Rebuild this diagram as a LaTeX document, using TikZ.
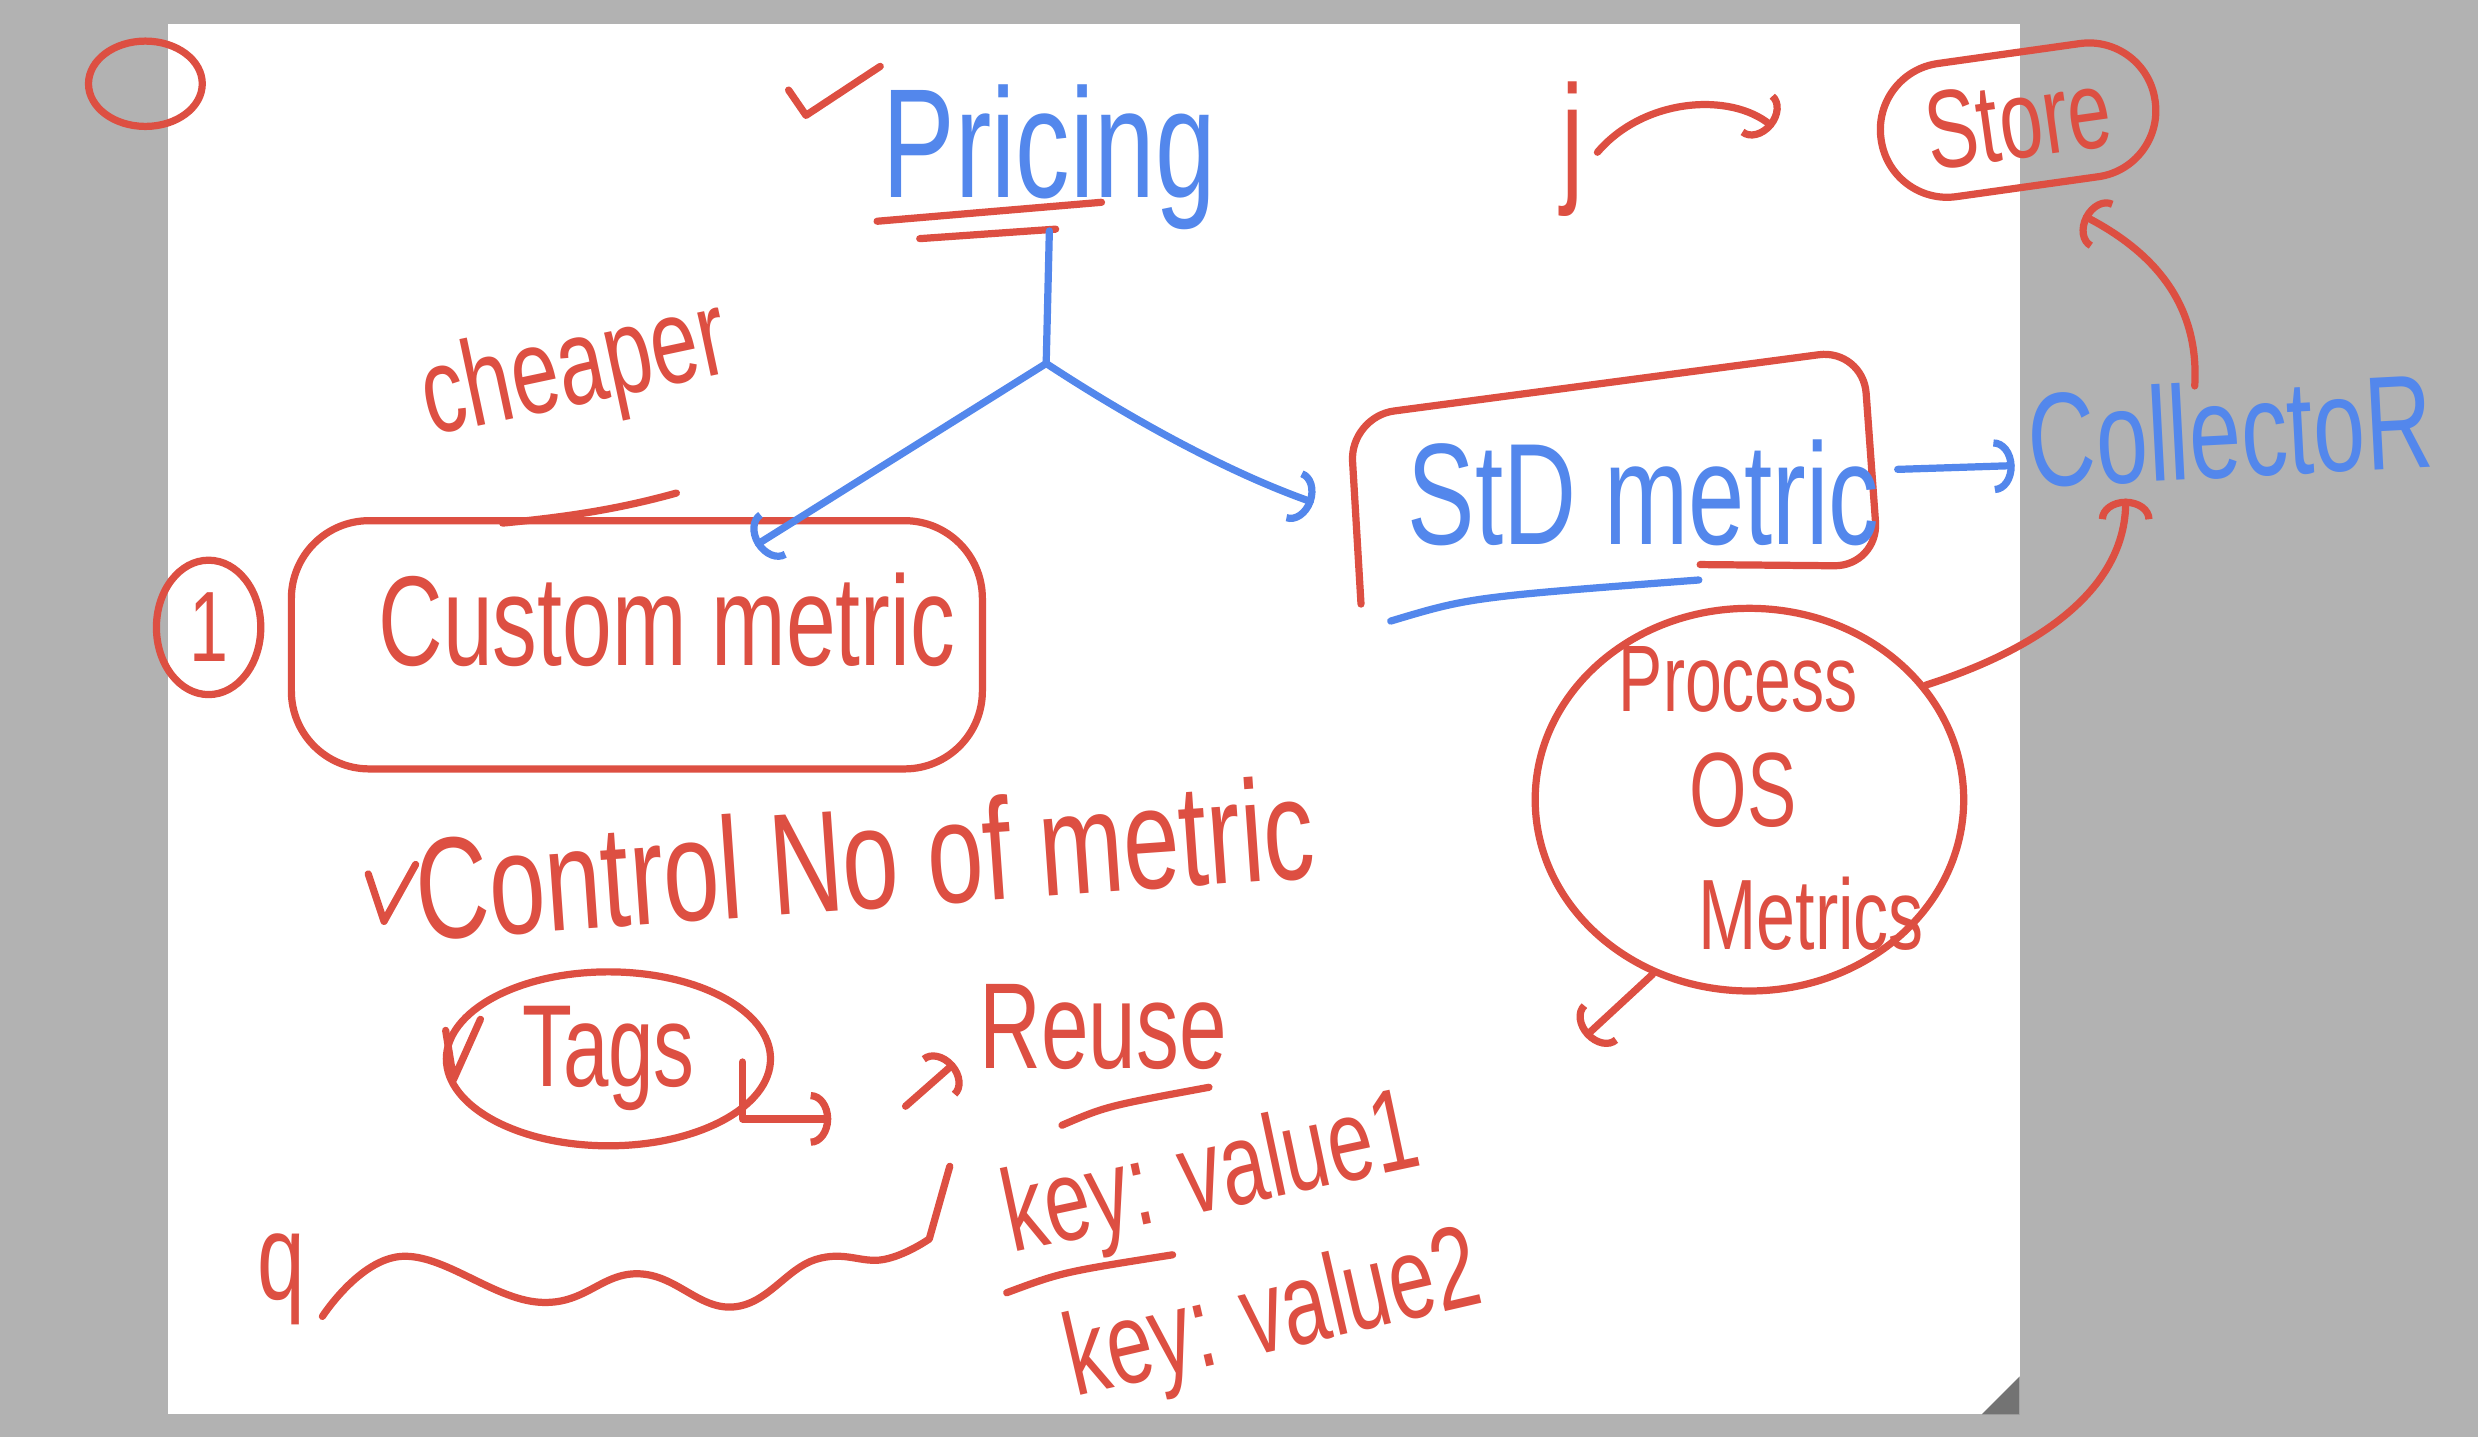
\documentclass[tikz,border=0pt]{standalone}
\usepackage{fontspec}
\usepackage{xcolor}
\usepackage{tikz}
\usetikzlibrary{arrows.meta,shapes.geometric,positioning,calc}
\newfontfamily\hand[FakeStretch=0.7]{Liberation Sans}
\newcommand\handfont[1]{\hand\fontsize{#1}{#1}\selectfont}
\definecolor{penred}{HTML}{DD4F42}
\definecolor{penblue}{HTML}{5387EC}
\definecolor{board}{HTML}{B2B2B2}

\begin{document}
\begin{tikzpicture}[x=0.01cm, y=-0.01cm, line cap=round, line join=round,
		redink/.style={draw=penred, line width=1.3pt},
		blueink/.style={draw=penblue, line width=1.3pt},
		hook/.style={-{Arc Barb[length=1.3mm, width=3.4mm]}},
		redtext/.style={text=penred, inner sep=0pt},
		bluetext/.style={text=penblue, inner sep=0pt}]
		% board
		\useasboundingbox (0,0) rectangle (1568,909);
		\fill[board] (0,0) rectangle (1568,909);
		\fill[white] (106,15) rectangle (1278,895);
		\fill[black!55] (1254,895) -- (1278,895) -- (1278,871) -- cycle;
		\draw[redink] (92,53) ellipse [x radius=36, y radius=27];

		% pricing
		\node[bluetext, font=\handfont{28}, anchor=base] (pricing) at (664,125) {Pricing};
		\draw[redink] (499,57) -- (510,73) -- (557,42);
		\draw[redink] (555,140) -- (697,128);
		\draw[redink] (582,151) -- (668,145);
		\coordinate (fork) at (662,230);
		\draw[blueink] (pricing.south) -- (fork);

		% custom metric
		\node[redink, rounded corners=14pt, minimum width=4.37cm, minimum height=1.57cm] (custom) at (403,408) {};
		\node[redtext, font=\handfont{23}] (customtxt) at (422,392) {Custom metric};
		\draw[redink] (318,331) .. controls (360,327) and (392,322) .. (428,312);
		\node[ellipse, redink, redtext, minimum width=0.66cm, minimum height=0.85cm, font=\handfont{18}] (one) at (132,397) {1};
		\node[redtext, font=\handfont{22}, rotate=12, anchor=base west] (cheaper) at (272,276) {cheaper};

		% std metric
		\node[minimum width=3.3cm, minimum height=1.25cm] (std) at (1020,302) {};
		\draw[redink, rounded corners=8pt] ($(std.south west)+(7,17)$) -- ($(std.north west)+(0,25)$) -- ($(std.north east)+(-7,-18)$) -- ($(std.south east)+(3,-7)$) -- ($(std.south east)+(-110,-8)$);
		\node[bluetext, font=\handfont{26}] (stdtxt) at (1040,312) {StD metric};
		\draw[blueink] (880,393) .. controls (930,378) .. (1075,367);

		\draw[blueink, hook] (fork) -- ($(custom.north)+(75,18)$);
		\draw[blueink, hook] (fork) .. controls (720,268) and (780,300) .. ($(std.west)+(-23,16)$);

		% collector and store
		\node[bluetext, font=\handfont{24}, anchor=base, rotate=3] (collector) at (1413,302) {CollectoR};
		\draw[blueink, hook] ($(std.east)+(15,-5)$) -- ($(collector.west)+(-8,16)$);
		\node[redink, redtext, rounded corners=12pt, rotate=8, minimum width=1.75cm, minimum height=0.85cm, font=\handfont{20}] (store) at (1277,76) {Store};
		\coordinate (storein) at ($(store.south)+(35,16)$);
		\draw[redink, hook] ($(collector.north)+(-21,4)$) .. controls (1392,190) and (1360,158) .. (storein);
		\node[redtext, font=\handfont{26}, anchor=base] (jmark) at (995,118) {j};
		\coordinate (jend) at ($(store.west)+(-66,-8)$);
		\draw[redink, hook] ($(jmark.east)+(8,2)$) .. controls (1040,62) and (1095,58) .. (jend);

		% process
		\node[ellipse, redink, minimum width=2.71cm, minimum height=2.42cm] (proc) at (1107,506) {};
		\node[redtext, font=\handfont{17}] (proc1) at (1100,430) {Process};
		\node[redtext, font=\handfont{19}] (proc2) at (1103,500) {OS};
		\node[redtext, font=\handfont{18}] (proc3) at (1146,578) {Metrics};
		\draw[redink, hook] (proc.33) .. controls (1292,410) and (1345,372) .. ($(collector.south)+(-68,12)$);
		\coordinate (procout) at (1003,656);
		\draw[redink, hook] (proc.241) -- (procout);

		% control
		\node[redtext, font=\handfont{26}, rotate=4, anchor=base west] (control) at (265,595) {Control No of metric};
		\draw[redink] (233,553) -- (243,583) -- (263,547);

		\node[ellipse, redink, redtext, minimum width=2.05cm, minimum height=1.1cm, font=\handfont{21}] (tags) at (385,670) {Tags};
		\draw[redink] (282,652) -- (287,683) -- (304,645);
		\coordinate (tagsout) at (526,708);
		\draw[redink, hook] ($(tags.east)+(-20,2)$) |- (tagsout);

		\node[redtext, font=\handfont{22}] (reuse) at (698,650) {Reuse};
		\coordinate (reusein) at (573,700);
		\draw[redink, hook] (reusein) -- ($(reuse.south west)+(-15,-5)$);
		\draw[redink] (672,712) .. controls (700,700) .. (765,688);

		\node[redtext, font=\handfont{21}, rotate=12, anchor=base west] (kv1) at (640,793) {key: value1};
		\node[redtext, font=\handfont{21}, rotate=13, anchor=base west] (kv2) at (680,884) {key: value2};
		\draw[redink] (637,818) .. controls (672,805) .. (742,794);

		\node[redtext, font=\handfont{22}, anchor=base] (qmark) at (178,822) {q};
		\draw[redink] plot[smooth, tension=0.7] coordinates {(204,833) (254,795) (341,824) (404,806) (464,827) (516,797) (559,797) (588,784)} -- (601,738);
\end{tikzpicture}
\end{document}
